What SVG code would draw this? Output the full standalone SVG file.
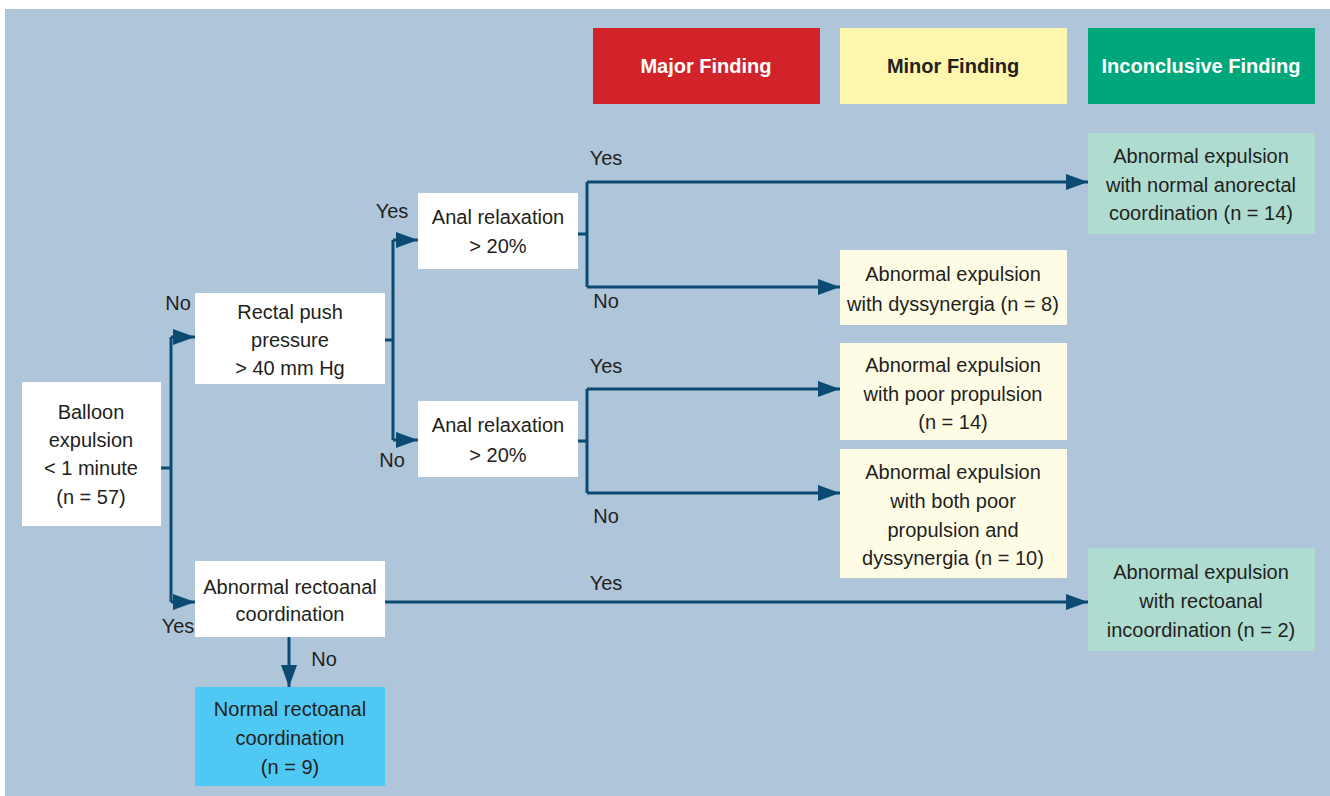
<svg xmlns="http://www.w3.org/2000/svg" width="1330" height="796" viewBox="0 0 1330 796">
<style>
.t{font-family:"Liberation Sans",Arial,sans-serif;font-size:20px;fill:#231F20;text-anchor:middle}
.lg{font-family:"Liberation Sans",Arial,sans-serif;font-size:20px;font-weight:bold;text-anchor:middle}
.w{fill:#FFFFFF}
.y{fill:#FFFCE6}
.g{fill:#AEDCD0}
.c{fill:none;stroke:#0B4A72;stroke-width:3}
</style>
<defs>
<marker id="ah" markerWidth="10" markerHeight="8" refX="10" refY="4" orient="auto" markerUnits="userSpaceOnUse" viewBox="0 0 10 8">
<path d="M0,0 L10,4 L0,8 z" fill="#0B4A72"/>
</marker>
<marker id="a" markerWidth="22" markerHeight="16" refX="22" refY="8" orient="auto" markerUnits="userSpaceOnUse" viewBox="0 0 22 16">
<path d="M0,0 L22,8 L0,16 z" fill="#0B4A72"/>
</marker>
</defs>
<rect x="0" y="0" width="1330" height="796" fill="#FFFFFF"/>
<rect x="5" y="9" width="1325" height="787" fill="#AFC6DA"/>

<g id="legend-major"><rect x="593" y="28" width="227" height="76" fill="#D2232A"/><text class="lg" x="706" y="73" fill="#FFFFFF">Major Finding</text></g>
<g id="legend-minor"><rect x="840" y="28" width="227" height="76" fill="#FEF6AC"/><text class="lg" x="953" y="73" fill="#231F20">Minor Finding</text></g>
<g id="legend-inconclusive"><rect x="1088" y="28" width="227" height="76" fill="#00A77A"/><text class="lg" x="1201" y="73" fill="#FFFFFF">Inconclusive Finding</text></g>

<g id="connectors">
<path class="c" d="M161,468 H171 M171,337 V602"/>
<path class="c" d="M171,337 H195" marker-end="url(#a)"/>
<path class="c" d="M171,602 H195" marker-end="url(#a)"/>
<path class="c" d="M385,340 H393 M393,240 V440"/>
<path class="c" d="M393,240 H418" marker-end="url(#a)"/>
<path class="c" d="M393,440 H418" marker-end="url(#a)"/>
<path class="c" d="M578,234 H587 M587,182 V287"/>
<path class="c" d="M587,182 H1088" marker-end="url(#a)"/>
<path class="c" d="M587,287 H840" marker-end="url(#a)"/>
<path class="c" d="M578,441 H587 M587,389 V493"/>
<path class="c" d="M587,389 H840" marker-end="url(#a)"/>
<path class="c" d="M587,493 H840" marker-end="url(#a)"/>
<path class="c" d="M385,602 H1088" marker-end="url(#a)"/>
<path class="c" d="M289,637 V687" marker-end="url(#a)"/>
<text class="t" x="178" y="310">No</text>
<text class="t" x="178" y="633">Yes</text>
<text class="t" x="392" y="218">Yes</text>
<text class="t" x="392" y="467">No</text>
<text class="t" x="606" y="165">Yes</text>
<text class="t" x="606" y="308">No</text>
<text class="t" x="606" y="373">Yes</text>
<text class="t" x="606" y="523">No</text>
<text class="t" x="606" y="590">Yes</text>
<text class="t" x="324" y="666">No</text>
</g>

<g id="balloon"><rect class="w" x="22" y="382" width="139" height="144"/>
<text class="t" x="91" y="419">Balloon</text><text class="t" x="91" y="447">expulsion</text><text class="t" x="91" y="475">&lt; 1 minute</text><text class="t" x="91" y="504">(n = 57)</text></g>

<g id="rectal-push"><rect class="w" x="195" y="293" width="190" height="91"/>
<text class="t" x="290" y="319">Rectal push</text><text class="t" x="290" y="347">pressure</text><text class="t" x="290" y="375">&gt; 40 mm Hg</text></g>

<g id="abnormal-rectoanal"><rect class="w" x="195" y="561" width="190" height="76"/>
<text class="t" x="290" y="594">Abnormal rectoanal</text><text class="t" x="290" y="621">coordination</text></g>

<g id="normal-rectoanal"><rect x="195" y="687" width="190" height="99" fill="#4FC9F3"/>
<text class="t" x="290" y="716">Normal rectoanal</text><text class="t" x="290" y="745">coordination</text><text class="t" x="290" y="774">(n = 9)</text></g>

<g id="anal-relax-1"><rect class="w" x="418" y="193" width="160" height="76"/>
<text class="t" x="498" y="224">Anal relaxation</text><text class="t" x="498" y="253">&gt; 20%</text></g>

<g id="anal-relax-2"><rect class="w" x="418" y="401" width="160" height="76"/>
<text class="t" x="498" y="432">Anal relaxation</text><text class="t" x="498" y="462">&gt; 20%</text></g>

<g id="normal-anorectal"><rect class="g" x="1088" y="133" width="227" height="101"/>
<text class="t" x="1201" y="163">Abnormal expulsion</text><text class="t" x="1201" y="192">with normal anorectal</text><text class="t" x="1201" y="220">coordination (n = 14)</text></g>

<g id="dyssynergia"><rect class="y" x="840" y="250" width="227" height="75"/>
<text class="t" x="953" y="281">Abnormal expulsion</text><text class="t" x="953" y="311">with dyssynergia (n = 8)</text></g>

<g id="poor-propulsion"><rect class="y" x="840" y="343" width="227" height="97"/>
<text class="t" x="953" y="372">Abnormal expulsion</text><text class="t" x="953" y="401">with poor propulsion</text><text class="t" x="953" y="429">(n = 14)</text></g>

<g id="both"><rect class="y" x="840" y="449" width="227" height="129"/>
<text class="t" x="953" y="479">Abnormal expulsion</text><text class="t" x="953" y="508">with both poor</text><text class="t" x="953" y="537">propulsion and</text><text class="t" x="953" y="565">dyssynergia (n = 10)</text></g>

<g id="incoordination"><rect class="g" x="1088" y="548" width="227" height="103"/>
<text class="t" x="1201" y="579">Abnormal expulsion</text><text class="t" x="1201" y="608">with rectoanal</text><text class="t" x="1201" y="637">incoordination (n = 2)</text></g>
</svg>
